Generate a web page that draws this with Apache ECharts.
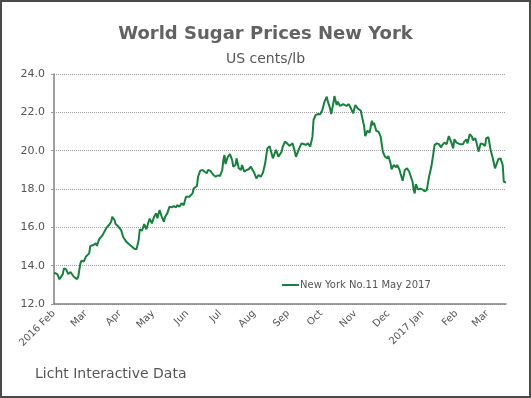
<!DOCTYPE html>
<html>
<head>
<meta charset="utf-8">
<title>World Sugar Prices New York</title>
<script src="https://cdn.jsdelivr.net/npm/echarts@6/dist/echarts.min.js"></script>
<style>
    html, body { margin: 0; padding: 0; background: #fff; }
    #sugarChart { width: 531px; height: 398px; }
</style>
</head>
<body>
<div id="sugarChart"></div>
<script>
var seriesName = 'New York No.11 May 2017';
var dates = [
    '2016-02-01', '2016-02-04', '2016-02-06', '2016-02-09', '2016-02-10', '2016-02-12', '2016-02-14', '2016-02-16',
    '2016-02-17', '2016-02-19', '2016-02-22', '2016-02-23', '2016-02-25', '2016-02-26', '2016-02-28', '2016-03-01',
    '2016-03-04', '2016-03-05', '2016-03-08', '2016-03-10', '2016-03-11', '2016-03-13', '2016-03-16', '2016-03-17',
    '2016-03-20', '2016-03-22', '2016-03-24', '2016-03-25', '2016-03-27', '2016-03-28', '2016-03-30',
    '2016-04-02', '2016-04-04', '2016-04-07', '2016-04-09', '2016-04-10', '2016-04-12', '2016-04-14', '2016-04-16',
    '2016-04-18', '2016-04-19', '2016-04-21', '2016-04-23', '2016-04-25', '2016-04-27', '2016-04-28', '2016-04-30',
    '2016-05-02', '2016-05-04', '2016-05-05', '2016-05-07', '2016-05-09', '2016-05-11', '2016-05-12', '2016-05-14',
    '2016-05-16', '2016-05-18', '2016-05-20', '2016-05-22', '2016-05-23', '2016-05-25', '2016-05-27', '2016-05-29',
    '2016-05-31', '2016-06-01', '2016-06-03', '2016-06-06', '2016-06-07',
    '2016-06-10', '2016-06-11', '2016-06-13', '2016-06-15', '2016-06-17', '2016-06-19', '2016-06-20', '2016-06-22',
    '2016-06-23', '2016-06-25', '2016-06-27', '2016-06-29', '2016-07-01', '2016-07-03', '2016-07-04', '2016-07-05',
    '2016-07-06', '2016-07-08', '2016-07-10', '2016-07-12', '2016-07-13', '2016-07-15', '2016-07-16', '2016-07-18',
    '2016-07-20', '2016-07-21', '2016-07-23', '2016-07-25', '2016-07-27', '2016-07-29', '2016-07-30', '2016-08-01',
    '2016-08-03', '2016-08-05', '2016-08-07', '2016-08-09', '2016-08-10', '2016-08-11', '2016-08-13', '2016-08-15',
    '2016-08-16', '2016-08-18', '2016-08-19', '2016-08-21', '2016-08-23', '2016-08-26', '2016-08-27', '2016-08-29',
    '2016-08-31', '2016-09-02', '2016-09-05', '2016-09-07', '2016-09-08', '2016-09-11', '2016-09-13', '2016-09-15',
    '2016-09-17', '2016-09-19', '2016-09-21', '2016-09-23', '2016-09-24', '2016-09-26', '2016-09-28', '2016-09-30',
    '2016-10-02', '2016-10-04', '2016-10-06', '2016-10-07', '2016-10-09', '2016-10-10', '2016-10-12', '2016-10-13',
    '2016-10-15', '2016-10-16', '2016-10-18', '2016-10-21', '2016-10-24', '2016-10-26', '2016-10-28', '2016-10-30',
    '2016-11-01', '2016-11-03', '2016-11-06',
    '2016-11-07', '2016-11-09', '2016-11-10', '2016-11-12', '2016-11-14', '2016-11-16', '2016-11-17', '2016-11-18',
    '2016-11-20', '2016-11-22', '2016-11-24', '2016-11-26', '2016-11-28', '2016-11-30', '2016-12-01', '2016-12-03',
    '2016-12-04', '2016-12-06', '2016-12-08', '2016-12-09', '2016-12-11', '2016-12-12', '2016-12-14', '2016-12-16',
    '2016-12-18', '2016-12-20', '2016-12-21', '2016-12-23', '2016-12-24', '2016-12-25', '2016-12-26', '2016-12-28',
    '2016-12-30', '2017-01-01', '2017-01-03', '2017-01-05', '2017-01-07', '2017-01-09', '2017-01-10', '2017-01-11',
    '2017-01-12', '2017-01-14', '2017-01-16', '2017-01-18', '2017-01-19', '2017-01-21', '2017-01-23', '2017-01-25',
    '2017-01-27', '2017-01-29', '2017-01-30', '2017-02-01', '2017-02-04', '2017-02-07', '2017-02-08', '2017-02-10',
    '2017-02-11', '2017-02-13', '2017-02-15', '2017-02-16', '2017-02-18', '2017-02-19', '2017-02-21', '2017-02-23',
    '2017-02-25', '2017-02-27', '2017-02-28', '2017-03-02', '2017-03-04', '2017-03-06', '2017-03-08', '2017-03-09',
    '2017-03-11', '2017-03-13', '2017-03-15', '2017-03-16', '2017-03-18'
];
var prices = [
    13.63, 13.56, 13.29, 13.56, 13.86, 13.81, 13.56, 13.67,
    13.63, 13.42, 13.30, 13.42, 14.12, 14.26, 14.21, 14.47,
    14.64, 15.03, 15.08, 15.17, 15.03, 15.37, 15.58, 15.65,
    16.00, 16.12, 16.29, 16.55, 16.38, 16.17, 16.07,
    15.86, 15.48, 15.23, 15.13, 15.20, 14.99, 14.88, 14.85,
    15.34, 15.90, 15.82, 16.17, 15.90, 16.29, 16.45, 16.21,
    16.55, 16.73, 16.47, 16.90, 16.55, 16.29, 16.55, 16.73,
    17.07, 17.04, 17.11, 17.04, 17.16, 17.07, 17.25, 17.16,
    17.60, 17.51, 17.60, 17.77, 18.03,
    18.16, 18.64, 18.96, 18.99, 18.90, 18.82, 18.99, 18.96,
    18.99, 18.73, 18.64, 18.71, 18.68, 18.99, 19.51, 19.77,
    19.30, 19.68, 19.82, 19.51, 19.16, 19.25, 19.60, 19.08,
    18.99, 19.25, 18.90, 18.99, 19.03, 19.16, 19.25, 18.85,
    18.55, 18.73, 18.64, 18.85, 18.82, 19.34, 20.12, 20.24,
    20.15, 19.60, 19.75, 20.04, 19.68, 19.95, 20.20, 20.47,
    20.38, 20.25, 20.38, 19.95, 19.68, 20.12, 20.38, 20.35,
    20.30, 20.38, 20.21, 20.73, 21.60, 21.86, 21.91, 21.90,
    22.12, 22.56, 22.82, 22.56, 22.21, 21.91, 22.47, 22.85,
    22.38, 22.56, 22.33, 22.43, 22.33, 22.43, 22.21, 21.95,
    22.38, 22.21, 22.08,
    21.79, 21.27, 20.76, 21.04, 20.94, 21.56, 21.33, 21.46,
    21.04, 20.99, 20.73, 19.95, 19.68, 19.60, 19.72, 19.34,
    19.03, 19.25, 19.13, 19.25, 19.03, 18.82, 18.43, 18.99,
    19.08, 18.90, 18.82, 18.38, 17.98, 17.77, 18.26, 17.98,
    18.01, 17.98, 17.88, 17.95, 18.64, 19.13, 19.16, 19.86,
    20.29, 20.38, 20.34, 20.17, 20.29, 20.42, 20.34, 20.76,
    20.47, 20.12, 20.59, 20.42, 20.34, 20.34, 20.47, 20.59,
    20.38, 20.86, 20.73, 20.55, 20.65, 20.47, 19.95, 20.38,
    20.34, 20.25, 20.65, 20.70, 20.04, 19.60, 19.08, 19.16,
    19.55, 19.60, 19.25, 18.38, 18.34
];
var monthStarts = [
    '2016-02-01', '2016-03-01', '2016-04-01', '2016-05-01', '2016-06-01', '2016-07-01', '2016-08-01',
    '2016-09-01', '2016-10-01', '2016-11-01', '2016-12-01', '2017-01-01', '2017-02-01', '2017-03-01'
];
var monthLabels = ['2016 Feb', 'Mar', 'Apr', 'May', 'Jun', 'Jul', 'Aug', 'Sep', 'Oct', 'Nov', 'Dec', '2017 Jan', 'Feb', 'Mar'];
var yTicks = [12, 14, 16, 18, 20, 22, 24];

(function () {
    var fontFamily = '"DejaVu Sans", Verdana, sans-serif';
    var dayMs = 86400000;
    var t0 = Date.parse(dates[0]);
    // days since first date, so the x axis can be a plain value axis
    var toDay = function (d) {
        return Math.round((Date.parse(d) - t0) / dayMs);
    };
    var seriesData = [];
    for (var i = 0; i < dates.length; i++) {
        seriesData.push([toDay(dates[i]), prices[i]]);
    }
    var monthDays = monthStarts.map(toDay);
    var labelFor = {};
    for (var j = 0; j < monthDays.length; j++) {
        labelFor[monthDays[j]] = monthLabels[j];
    }

    var chartElem = document.getElementById('sugarChart');
    var chart = echarts.init(chartElem, null, { renderer: 'canvas' });
    var option = {
        backgroundColor: '#fff',
        animation: false,
        title: [{
            text: 'World Sugar Prices New York',
            left: 'center',
            top: 25,
            padding: 0,
            textStyle: { fontFamily: fontFamily, fontSize: 18, fontWeight: 'bold', color: '#626262' }
        }, {
            text: 'US cents/lb',
            left: 'center',
            top: 52,
            padding: 0,
            textStyle: { fontFamily: fontFamily, fontSize: 14, fontWeight: 'normal', color: '#555' }
        }, {
            text: 'Licht Interactive Data',
            left: 35,
            top: 367,
            padding: 0,
            textStyle: { fontFamily: fontFamily, fontSize: 14, fontWeight: 'normal', color: '#555' }
        }],
        graphic: [{
            type: 'rect',
            shape: { x: 1, y: 1, width: 529, height: 396 },
            style: { fill: 'none', stroke: '#4a4a4a', lineWidth: 2 },
            silent: true
        }],
        legend: {
            left: 282,
            top: 280,
            padding: 0,
            itemWidth: 17,
            itemHeight: 2,
            data: [{ name: seriesName, icon: 'rect' }],
            textStyle: { fontFamily: fontFamily, fontSize: 10, color: '#555', padding: [0, 0, 0, -4] }
        },
        grid: {
            left: 54,
            right: 25,
            top: 74,
            bottom: 94
        },
        xAxis: {
            type: 'value',
            min: 0,
            max: seriesData[seriesData.length - 1][0],
            axisLine: { lineStyle: { color: '#808080', width: 1.5 } },
            axisTick: { show: false },
            splitLine: { show: false },
            axisLabel: {
                customValues: monthDays,
                rotate: 45,
                margin: 8,
                fontFamily: fontFamily,
                fontSize: 10,
                color: '#555',
                formatter: function (v) {
                    return labelFor[v] || '';
                }
            }
        },
        yAxis: {
            type: 'value',
            min: yTicks[0],
            max: yTicks[yTicks.length - 1],
            interval: 2,
            axisLine: { show: true, lineStyle: { color: '#808080', width: 1.5 } },
            axisTick: { show: true, length: 3, lineStyle: { color: '#999' } },
            splitLine: { lineStyle: { color: '#a0a0a0', type: 'dotted', width: 1 } },
            axisLabel: {
                margin: 9,
                fontFamily: fontFamily,
                fontSize: 11,
                color: '#555',
                formatter: function (v) {
                    return v.toFixed(1);
                }
            }
        },
        series: [{
            name: seriesName,
            type: 'line',
            symbol: 'none',
            data: seriesData,
            lineStyle: { color: '#17803d', width: 2 },
            itemStyle: { color: '#17803d' }
        }]
    };
    chart.setOption(option);

    window.addEventListener('resize', function () {
        chart.resize();
    });
})();
</script>
</body>
</html>
